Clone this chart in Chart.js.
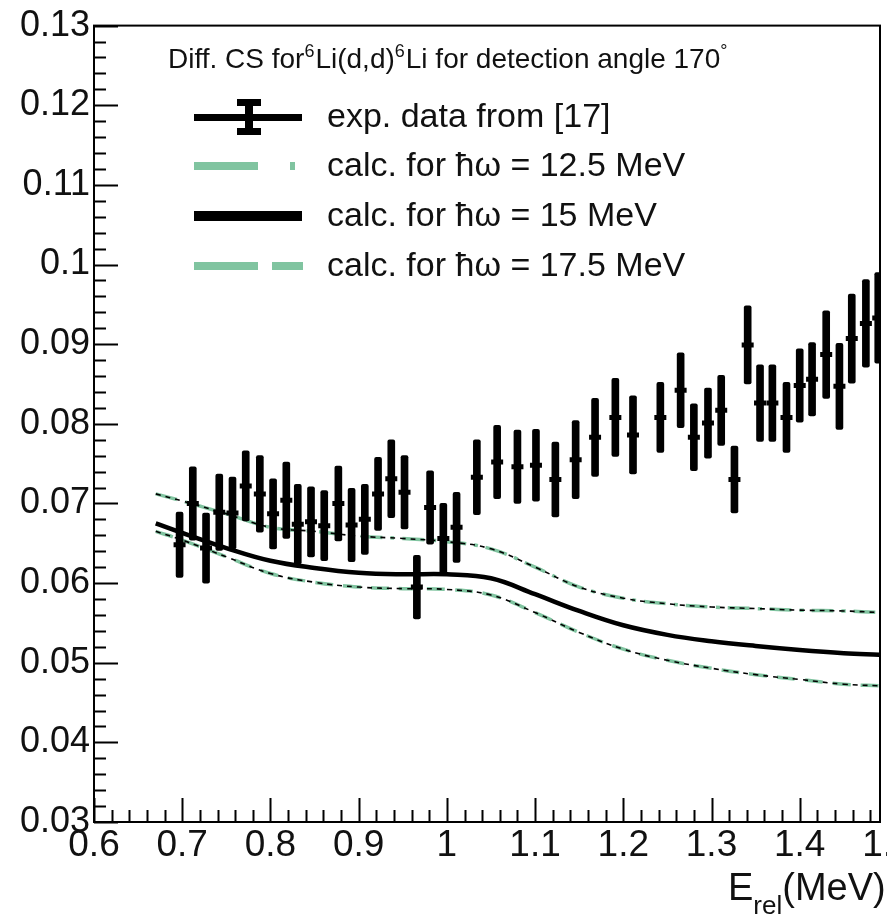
<!DOCTYPE html>
<html>
<head>
<meta charset="utf-8">
<script src="https://cdn.jsdelivr.net/npm/chart.js@4.4.1/dist/chart.umd.min.js"></script>
<style>
html, body { margin: 0; padding: 0; background: #fff; overflow: hidden; }
#csChart { display: block; }
</style>
</head>
<body>
<canvas id="csChart" width="960" height="917"></canvas>
<script>
// measured points (E_rel in MeV, cross section, error)
var energy = [0.697, 0.712, 0.727, 0.742, 0.757, 0.772, 0.788, 0.803, 0.818, 0.831,
  0.846, 0.861, 0.877, 0.892, 0.907, 0.922, 0.937, 0.952, 0.966, 0.981,
  0.996, 1.011, 1.034, 1.057, 1.080, 1.101, 1.123, 1.146, 1.168, 1.191,
  1.211, 1.242, 1.265, 1.280, 1.296, 1.311, 1.326, 1.341, 1.355, 1.369,
  1.385, 1.400, 1.414, 1.430, 1.445, 1.459, 1.475, 1.489];
var crossSection = [0.0648, 0.0700, 0.0644, 0.0689, 0.0688, 0.0722, 0.0712, 0.0687, 0.0704, 0.0674,
  0.0677, 0.0672, 0.0700, 0.0673, 0.0680, 0.0712, 0.0731, 0.0714, 0.0595, 0.0695,
  0.0656, 0.0670, 0.0733, 0.0752, 0.0746, 0.0748, 0.0730, 0.0755, 0.0783, 0.0808,
  0.0786, 0.0808, 0.0842, 0.0783, 0.0801, 0.0817, 0.0730, 0.0899, 0.0826, 0.0826,
  0.0808, 0.0848, 0.0856, 0.0887, 0.0847, 0.0907, 0.0926, 0.0933];
var crossErr = [0.0041, 0.0046, 0.0044, 0.0048, 0.0045, 0.0044, 0.0048, 0.0044, 0.0048, 0.0050,
  0.0044, 0.0044, 0.0047, 0.0046, 0.0044, 0.0046, 0.0049, 0.0046, 0.0040, 0.0046,
  0.0044, 0.0044, 0.0047, 0.0046, 0.0046, 0.0045, 0.0047, 0.0049, 0.0049, 0.0049,
  0.0049, 0.0044, 0.0047, 0.0042, 0.0044, 0.0044, 0.0042, 0.0049, 0.0048, 0.0048,
  0.0044, 0.0046, 0.0046, 0.0055, 0.0054, 0.0056, 0.0055, 0.0057];

// calculated curves
var calcE = [0.67, 0.70, 0.75, 0.80, 0.85, 0.90, 0.95, 1.00, 1.05, 1.10, 1.15, 1.20, 1.25, 1.30, 1.35, 1.40, 1.45, 1.49];
var calc125 = [0.0712, 0.0703, 0.0687, 0.0670, 0.0665, 0.0659, 0.0656, 0.0652, 0.0643, 0.0620, 0.0595, 0.0581, 0.0574, 0.0570, 0.0568, 0.0566, 0.0565, 0.0563];
var calc15 = [0.0675, 0.0663, 0.0644, 0.0628, 0.0619, 0.0613, 0.0611, 0.0611, 0.0606, 0.0586, 0.0565, 0.0547, 0.0535, 0.0527, 0.0521, 0.0516, 0.0512, 0.0510];
var calc175 = [0.0665, 0.0654, 0.0633, 0.0612, 0.0601, 0.0595, 0.0593, 0.0592, 0.0585, 0.0563, 0.0538, 0.0517, 0.0503, 0.0493, 0.0485, 0.0479, 0.0473, 0.0471];

var seriesNames = ['exp. data from [17]', 'calc. for ħω = 12.5 MeV', 'calc. for ħω = 15 MeV', 'calc. for ħω = 17.5 MeV'];
var yTicks = { min: 0.03, max: 0.13, step: 0.01 };
var xTicks = { min: 0.6, max: 1.491, step: 0.1, extra: 1.5 };

var green = 'rgb(128, 196, 160)';
var font = 'Liberation Sans, Arial, Helvetica, sans-serif';

function pts(xs, ys) {
  return xs.map(function (e, i) { return { x: e, y: ys[i] }; });
}

// ROOT-like frame, inner ticks, legend box and axis title
var rootFrame = {
  id: 'rootFrame',
  afterDraw: function (chart) {
    var ctx = chart.ctx, a = chart.chartArea, x = chart.scales.x, y = chart.scales.y;
    ctx.save();
    ctx.strokeStyle = '#000';
    ctx.lineWidth = 2;
    ctx.strokeRect(a.left, a.top, a.right - a.left, a.bottom - a.top);

    ctx.beginPath();
    for (var k = 0; ; k++) {
      var v = yTicks.min + k * yTicks.step / 5;
      if (v > yTicks.max + 1e-9) break;
      var p = Math.round(y.getPixelForValue(v)) + 0.5;
      ctx.moveTo(a.left, p);
      ctx.lineTo(a.left + (k % 5 === 0 ? 24 : 12), p);
    }
    for (var j = 0; ; j++) {
      var u = xTicks.min + j * xTicks.step / 5;
      if (u > x.max + 1e-9) break;
      var q = Math.round(x.getPixelForValue(u)) + 0.5;
      ctx.moveTo(q, a.bottom);
      ctx.lineTo(q, a.bottom - (j % 5 === 0 ? 24 : 12));
    }
    ctx.stroke();

    // legend title with superscripts
    ctx.fillStyle = '#111';
    ctx.textBaseline = 'alphabetic';
    var parts = [['Diff. CS for', 0], ['6', 1], ['Li(d,d)', 0], ['6', 1], ['Li for detection angle 170', 0], ['°', 1]];
    var tx = 168;
    parts.forEach(function (pt) {
      ctx.font = (pt[1] ? '18px ' : '28px ') + font;
      ctx.fillText(pt[0], tx, pt[1] ? 57 : 68);
      tx += ctx.measureText(pt[0]).width + (pt[1] ? 1 : 0);
    });

    // legend entries
    var rows = [117, 166, 216, 266];
    ctx.lineCap = 'butt';
    // exp data symbol
    ctx.fillStyle = '#000';
    ctx.fillRect(194, rows[0] - 3, 108, 7);
    ctx.fillRect(245, rows[0] - 18, 8, 36);
    ctx.fillRect(237, rows[0] - 18, 24, 7);
    ctx.fillRect(237, rows[0] + 11, 24, 7);
    // 12.5
    ctx.fillStyle = green;
    ctx.fillRect(194, rows[1] - 4, 64, 8);
    ctx.fillRect(290, rows[1] - 4, 5, 8);
    // 15
    ctx.fillStyle = '#000';
    ctx.fillRect(194, rows[2] - 5, 108, 10);
    // 17.5
    ctx.fillStyle = green;
    ctx.fillRect(194, rows[3] - 4, 64, 8);
    ctx.fillRect(272, rows[3] - 4, 31, 8);

    ctx.fillStyle = '#111';
    ctx.font = '34px ' + font;
    ctx.textBaseline = 'middle';
    seriesNames.forEach(function (name, i) {
      ctx.fillText(name, 327, rows[i] + 1);
    });

    // axis title E_rel(MeV)
    ctx.textBaseline = 'alphabetic';
    ctx.font = '38px ' + font;
    ctx.fillText('E', 728, 900);
    var w = ctx.measureText('E').width;
    ctx.font = '26px ' + font;
    ctx.fillText('rel', 728 + w, 914);
    var w2 = ctx.measureText('rel').width;
    ctx.font = '38px ' + font;
    ctx.fillText('(MeV)', 728 + w + w2, 900);
    ctx.restore();
  }
};

var ctx = document.getElementById('csChart').getContext('2d');
var chart = new Chart(ctx, {
  type: 'scatter',
  data: {
    datasets: [
      {
        type: 'scatter',
        label: seriesNames[0],
        data: pts(energy, crossSection),
        pointStyle: 'line',
        pointRadius: 6,
        borderWidth: 5,
        borderColor: '#000',
        backgroundColor: '#000'
      },
      {
        type: 'bar',
        label: seriesNames[0] + ' errors',
        data: energy.map(function (e, i) { return { x: e, y: [crossSection[i] - crossErr[i], crossSection[i] + crossErr[i]] }; }),
        backgroundColor: '#000',
        borderWidth: 0,
        barThickness: 7,
        borderRadius: 2,
        borderSkipped: false,
        grouped: false
      },
      {
        type: 'line',
        label: seriesNames[1] + ' overlay',
        data: pts(calcE, calc125),
        borderColor: '#000',
        borderWidth: 1.6,
        borderDash: [5, 5],
        pointRadius: 0,
        tension: 0.4
      },
      {
        type: 'line',
        label: seriesNames[1],
        data: pts(calcE, calc125),
        borderColor: green,
        borderWidth: 3.5,
        borderDash: [22, 8, 4, 8],
        pointRadius: 0,
        tension: 0.4
      },
      {
        type: 'line',
        label: seriesNames[2],
        data: pts(calcE, calc15),
        borderColor: '#000',
        borderWidth: 4.5,
        pointRadius: 0,
        tension: 0.4
      },
      {
        type: 'line',
        label: seriesNames[3] + ' overlay',
        data: pts(calcE, calc175),
        borderColor: '#000',
        borderWidth: 1.6,
        borderDash: [5, 5],
        pointRadius: 0,
        tension: 0.4
      },
      {
        type: 'line',
        label: seriesNames[3],
        data: pts(calcE, calc175),
        borderColor: green,
        borderWidth: 3.5,
        borderDash: [18, 10],
        pointRadius: 0,
        tension: 0.4
      }
    ]
  },
  options: {
    responsive: false,
    animation: false,
    events: [],
    layout: { padding: { left: 0, top: 25, right: 80, bottom: 0 } },
    plugins: {
      legend: { display: false },
      tooltip: { enabled: false }
    },
    scales: {
      x: {
        type: 'linear',
        offset: false,
        min: xTicks.min,
        max: xTicks.max,
        grid: { display: false, drawTicks: false },
        border: { display: false },
        ticks: {
          stepSize: xTicks.step,
          includeBounds: false,
          maxRotation: 0,
          autoSkip: false,
          padding: 2,
          color: '#111',
          font: { family: font, size: 37 },
          callback: function (v) { return String(Number(v.toFixed(1))); }
        },
        afterBuildTicks: function (s) { s.ticks.push({ value: xTicks.extra }); },
        afterFit: function (s) { s.height = 95; }
      },
      y: {
        type: 'linear',
        min: yTicks.min,
        max: yTicks.max,
        grid: { display: false, drawTicks: false },
        border: { display: false },
        ticks: {
          stepSize: yTicks.step,
          padding: 4,
          color: '#111',
          font: { family: font, size: 36 },
          callback: function (v) { return String(Number(v.toFixed(2))); }
        },
        afterFit: function (s) { s.width = 94; }
      }
    }
  },
  plugins: [rootFrame]
});
</script>
</body>
</html>
